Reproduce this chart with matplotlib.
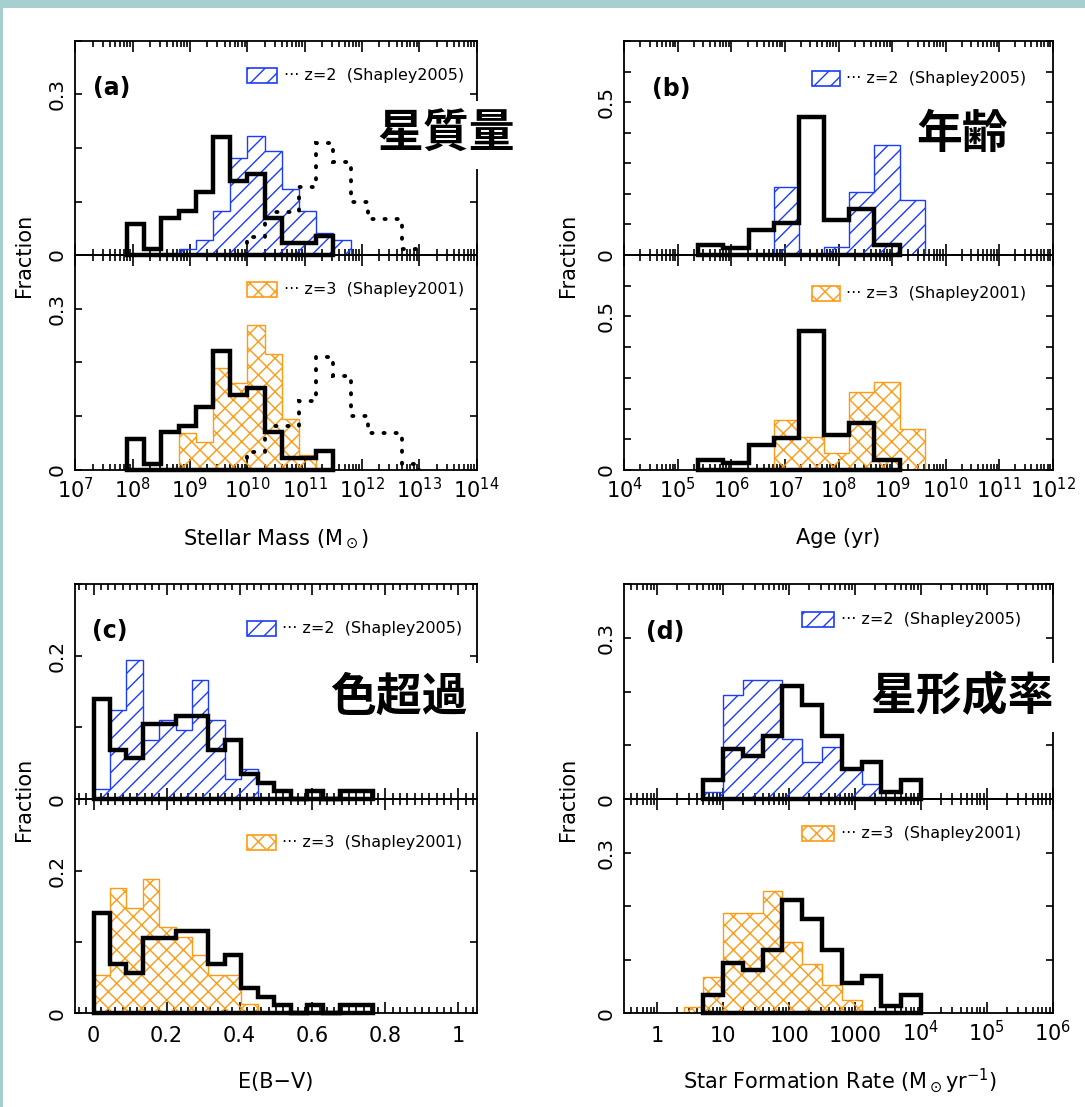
import numpy as np
import matplotlib
matplotlib.use('Agg')
import matplotlib.pyplot as plt
from matplotlib.patches import Rectangle
from matplotlib.ticker import (FixedLocator, FixedFormatter, LogLocator,
                               MultipleLocator, NullFormatter, FuncFormatter)

plt.rcParams['font.family'] = ['DejaVu Sans']
plt.rcParams['mathtext.default'] = 'regular'
plt.rcParams['hatch.linewidth'] = 1.0

W, H = 1085, 1107
BLUE = '#1a3cff'
ORANGE = '#ff9a14'
STRIP = '#a6d0d0'
JP = ['Noto Sans CJK JP', 'DejaVu Sans']

# stellar mass: log10(M/Msun) bin edges, fraction per bin
mass_edges = [7.9, 8.2, 8.5, 8.8, 9.1, 9.4, 9.7, 10.0, 10.3, 10.6, 10.9, 11.2, 11.5]
mass_frac = [0.058, 0.012, 0.070, 0.082, 0.117, 0.221, 0.139, 0.152, 0.070, 0.023, 0.023, 0.035]
mass_edges_z2 = [8.8, 9.1, 9.4, 9.7, 10.0, 10.3, 10.6, 10.9, 11.2, 11.5, 11.8]
mass_frac_z2 = [0.012, 0.028, 0.083, 0.182, 0.222, 0.194, 0.124, 0.083, 0.042, 0.028]
mass_edges_z3 = [8.8, 9.1, 9.4, 9.7, 10.0, 10.3, 10.6, 10.9, 11.2]
mass_frac_z3 = [0.068, 0.053, 0.189, 0.161, 0.270, 0.216, 0.094, 0.027]
mass_edges_dot = [10.0, 10.3, 10.6, 10.9, 11.2, 11.5, 11.8, 12.1, 12.4, 12.7, 13.0]
mass_frac_dot = [0.034, 0.081, 0.081, 0.128, 0.210, 0.174, 0.100, 0.068, 0.068, 0.012]

# age: log10(yr)
age_edges = [5.38, 5.85, 6.32, 6.79, 7.26, 7.73, 8.20, 8.67, 9.14]
age_frac = [0.034, 0.023, 0.083, 0.105, 0.453, 0.115, 0.152, 0.034]
age_edges_lbg = [6.79, 7.26, 7.73, 8.20, 8.67, 9.14, 9.61]
age_frac_z2 = [0.221, 0.0, 0.027, 0.207, 0.361, 0.179]
age_frac_z3 = [0.163, 0.109, 0.054, 0.255, 0.285, 0.134]

# colour excess E(B-V)
ebv_edges = [0.0, 0.045, 0.09, 0.135, 0.18, 0.225, 0.27, 0.315, 0.36, 0.405,
             0.45, 0.495, 0.54, 0.585, 0.63, 0.675, 0.72, 0.765]
ebv_frac = [0.140, 0.069, 0.057, 0.105, 0.105, 0.116, 0.116, 0.069, 0.082,
            0.035, 0.023, 0.012, 0.0, 0.012, 0.0, 0.012, 0.012]
ebv_edges_lbg = [0.0, 0.045, 0.09, 0.135, 0.18, 0.225, 0.27, 0.315, 0.36, 0.405, 0.45]
ebv_frac_z2 = [0.014, 0.124, 0.194, 0.083, 0.110, 0.097, 0.166, 0.110, 0.028, 0.042]
ebv_frac_z3 = [0.054, 0.175, 0.147, 0.188, 0.121, 0.107, 0.081, 0.054, 0.054, 0.013]

# star formation rate: log10(Msun/yr)
sfr_edges = [0.7, 1.0, 1.3, 1.6, 1.9, 2.2, 2.5, 2.8, 3.1, 3.4, 3.7, 4.0]
sfr_frac = [0.035, 0.094, 0.081, 0.118, 0.211, 0.176, 0.118, 0.056, 0.070, 0.013, 0.035]
sfr_edges_z2 = [0.7, 1.0, 1.3, 1.6, 1.9, 2.2, 2.5, 2.8, 3.1, 3.4]
sfr_frac_z2 = [0.014, 0.194, 0.222, 0.222, 0.111, 0.069, 0.097, 0.056, 0.028]
sfr_edges_z3 = [0.4, 0.7, 1.0, 1.3, 1.6, 1.9, 2.2, 2.5, 2.8, 3.1]
sfr_frac_z3 = [0.011, 0.067, 0.188, 0.188, 0.229, 0.133, 0.093, 0.052, 0.025]

sfr_ticks = [1, 10, 100, 1000, 1e4, 1e5, 1e6]
sfr_ticklabels = ['1', '10', '100', '1000', '$10^{4}$', '$10^{5}$', '$10^{6}$']


fig = plt.figure(figsize=(W / 100, H / 100), dpi=100, facecolor='white')
fig.add_artist(Rectangle((0, 1 - 8 / H), 1, 8 / H, transform=fig.transFigure,
                         facecolor=STRIP, edgecolor='none', zorder=0))
fig.add_artist(Rectangle((0, 0), 3 / W, 1, transform=fig.transFigure,
                         facecolor=STRIP, edgecolor='none', zorder=0))


def fx(x):
    return x / W


def fy(y):
    return 1 - y / H


def make_pair(x0, x1, y0, ymid, y1):
    up = fig.add_axes([fx(x0), fy(ymid), (x1 - x0) / W, (ymid - y0) / H])
    low = fig.add_axes([fx(x0), fy(y1), (x1 - x0) / W, (y1 - ymid) / H])
    return up, low


def hist_box(ax, edges, vals, **kw):
    x = np.repeat(edges, 2)
    y = np.concatenate([[0], np.repeat(vals, 2), [0]])
    ax.fill(x, y, **kw)


def draw_hists(ax, edges, vals, sub_edges, sub_vals, color, hatch, dot=None):
    hist_box(ax, sub_edges, sub_vals, facecolor='none', edgecolor=color,
             hatch=hatch, lw=1.0, zorder=2)
    if dot is not None:
        ax.stairs(dot[1], dot[0], baseline=0, fill=False, edgecolor='k',
                  lw=2.8, linestyle=(0, (0.3, 2.8)), capstyle='round', zorder=2.5)
    hist_box(ax, edges, vals, facecolor='none', edgecolor='k', lw=3.2,
             joinstyle='miter', clip_on=False, zorder=3)


def style(ax, xlim, ymax, ylabs, log=True, bottom=True, xfmt=None):
    ax.set_facecolor('none')
    for s in ax.spines.values():
        s.set_linewidth(1.3)
    ax.set_xlim(*xlim)
    ax.set_ylim(0, ymax)
    if log:
        ax.set_xscale('log')
        if xfmt is None:
            ax.xaxis.set_major_locator(LogLocator(10, numticks=30))
        else:
            ax.xaxis.set_major_locator(FixedLocator(xfmt[0]))
            ax.xaxis.set_major_formatter(FixedFormatter(xfmt[1]))
        ax.xaxis.set_minor_locator(LogLocator(10, subs=np.arange(2, 10), numticks=30))
    else:
        ax.xaxis.set_major_locator(MultipleLocator(0.2))
        ax.xaxis.set_minor_locator(MultipleLocator(0.02))
        ax.xaxis.set_major_formatter(FuncFormatter(lambda v, p: f'{v:g}'))
    ax.xaxis.set_minor_formatter(NullFormatter())
    ax.yaxis.set_major_locator(MultipleLocator(0.1))
    ax.yaxis.set_major_formatter(FuncFormatter(
        lambda v, p: f'{v:g}' if any(abs(v - k) < 1e-6 for k in ylabs) else ''))
    ax.tick_params(which='both', direction='in', top=True, right=True, width=1.2)
    ax.xaxis.set_tick_params(which='major', length=8)
    ax.xaxis.set_tick_params(which='minor', length=4)
    ax.yaxis.set_tick_params(which='major', length=5)
    ax.tick_params(axis='x', labelsize=15, pad=20.4, labelbottom=bottom)
    ax.tick_params(axis='y', labelsize=14.5, pad=6.5, labelrotation=90)
    for t in ax.xaxis.get_major_ticks():
        t.label1.set_va('baseline')
    for t in ax.yaxis.get_major_ticks():
        t.label1.set_va('center')


def legend(x, y, w, color, hatch, text):
    fig.add_artist(Rectangle((fx(x), fy(y + 15)), w / W, 15 / H,
                             transform=fig.transFigure, facecolor='none',
                             edgecolor=color, hatch=hatch, lw=1.2, zorder=4))
    fig.text(fx(x + w + 6.5), fy(y + 7.5), '··· ' + text, fontsize=11.5,
             ha='left', va='center', zorder=4)


def jp_label(x, y, s):
    fig.text(fx(x), fy(y), s, fontsize=33, fontweight='bold', family=JP,
             ha='center', va='center', zorder=5,
             bbox=dict(facecolor='white', edgecolor='none', boxstyle='square,pad=0.25'))


LEFT = (75.3, 476.7)
RIGHT = (624.3, 1052.7)
TOP = (41, 255, 470)
BOT = (584, 799.2, 1013.3)

lg = lambda e: 10 ** np.array(e)
Z2 = 'z=2  (Shapley2005)'
Z3 = 'z=3  (Shapley2001)'
HZ2 = '//'
HZ3 = 'xx'

# (a) stellar mass
a_up, a_low = make_pair(*LEFT, *TOP)
draw_hists(a_up, lg(mass_edges), mass_frac, lg(mass_edges_z2), mass_frac_z2,
           BLUE, HZ2, dot=(lg(mass_edges_dot), mass_frac_dot))
draw_hists(a_low, lg(mass_edges), mass_frac, lg(mass_edges_z3), mass_frac_z3,
           ORANGE, HZ3, dot=(lg(mass_edges_dot), mass_frac_dot))
for ax, b in ((a_up, False), (a_low, True)):
    style(ax, (1e7, 1e14), 0.4, [0, 0.3], bottom=b)

# (b) age
b_up, b_low = make_pair(*RIGHT, *TOP)
draw_hists(b_up, lg(age_edges), age_frac, lg(age_edges_lbg), age_frac_z2, BLUE, HZ2)
draw_hists(b_low, lg(age_edges), age_frac, lg(age_edges_lbg), age_frac_z3, ORANGE, HZ3)
for ax, b in ((b_up, False), (b_low, True)):
    style(ax, (1e4, 1e12), 0.7, [0, 0.5], bottom=b)

# (c) E(B-V)
c_up, c_low = make_pair(*LEFT, *BOT)
draw_hists(c_up, ebv_edges, ebv_frac, ebv_edges_lbg, ebv_frac_z2, BLUE, HZ2)
draw_hists(c_low, ebv_edges, ebv_frac, ebv_edges_lbg, ebv_frac_z3, ORANGE, HZ3)
for ax, b in ((c_up, False), (c_low, True)):
    style(ax, (-0.05, 1.05), 0.3, [0, 0.2], log=False, bottom=b)

# (d) star formation rate
d_up, d_low = make_pair(*RIGHT, *BOT)
draw_hists(d_up, lg(sfr_edges), sfr_frac, lg(sfr_edges_z2), sfr_frac_z2, BLUE, HZ2)
draw_hists(d_low, lg(sfr_edges), sfr_frac, lg(sfr_edges_z3), sfr_frac_z3, ORANGE, HZ3)
for ax, b in ((d_up, False), (d_low, True)):
    style(ax, (10 ** -0.5, 1e6), 0.4, [0, 0.3], bottom=b,
          xfmt=(sfr_ticks, sfr_ticklabels))

# legends
legend(247, 68, 30, BLUE, HZ2, Z2)
legend(247, 282.5, 30, ORANGE, HZ3, Z3)
legend(811.5, 71, 28, BLUE, HZ2, Z2)
legend(811.5, 286, 28, ORANGE, HZ3, Z3)
legend(246.7, 620.5, 29, BLUE, HZ2, Z2)
legend(246.7, 835, 29, ORANGE, HZ3, Z3)
legend(802.3, 612, 32, BLUE, HZ2, Z2)
legend(802.3, 826, 32, ORANGE, HZ3, Z3)

# panel tags
for x, y, s in ((112, 88, '(a)'), (671.7, 89, '(b)'), (110, 631, '(c)'), (665, 631.5, '(d)')):
    fig.text(fx(x), fy(y), s, fontsize=17, fontweight='bold', ha='center', va='center')

jp_label(446, 135, '星質量')
jp_label(962, 135, '年齢')
jp_label(399, 697.5, '色超過')
jp_label(962.5, 697.5, '星形成率')

# axis titles
fig.text(fx(276), fy(545), r'Stellar Mass (M$_\odot$)', fontsize=15, ha='center', va='baseline')
fig.text(fx(838), fy(544), 'Age (yr)', fontsize=15, ha='center', va='baseline')
fig.text(fx(276), fy(1088), 'E(B\u2212V)', fontsize=15, ha='center', va='baseline')
fig.text(fx(840), fy(1088), r'Star Formation Rate (M$_\odot$yr$^{-1}$)', fontsize=15,
         ha='center', va='baseline')
for x, y in ((24, 255), (568, 255), (24, 799), (568, 799)):
    fig.text(fx(x), fy(y), 'Fraction', fontsize=15, rotation=90, ha='center', va='center')

fig.savefig('out.png', dpi=100, facecolor='white')
